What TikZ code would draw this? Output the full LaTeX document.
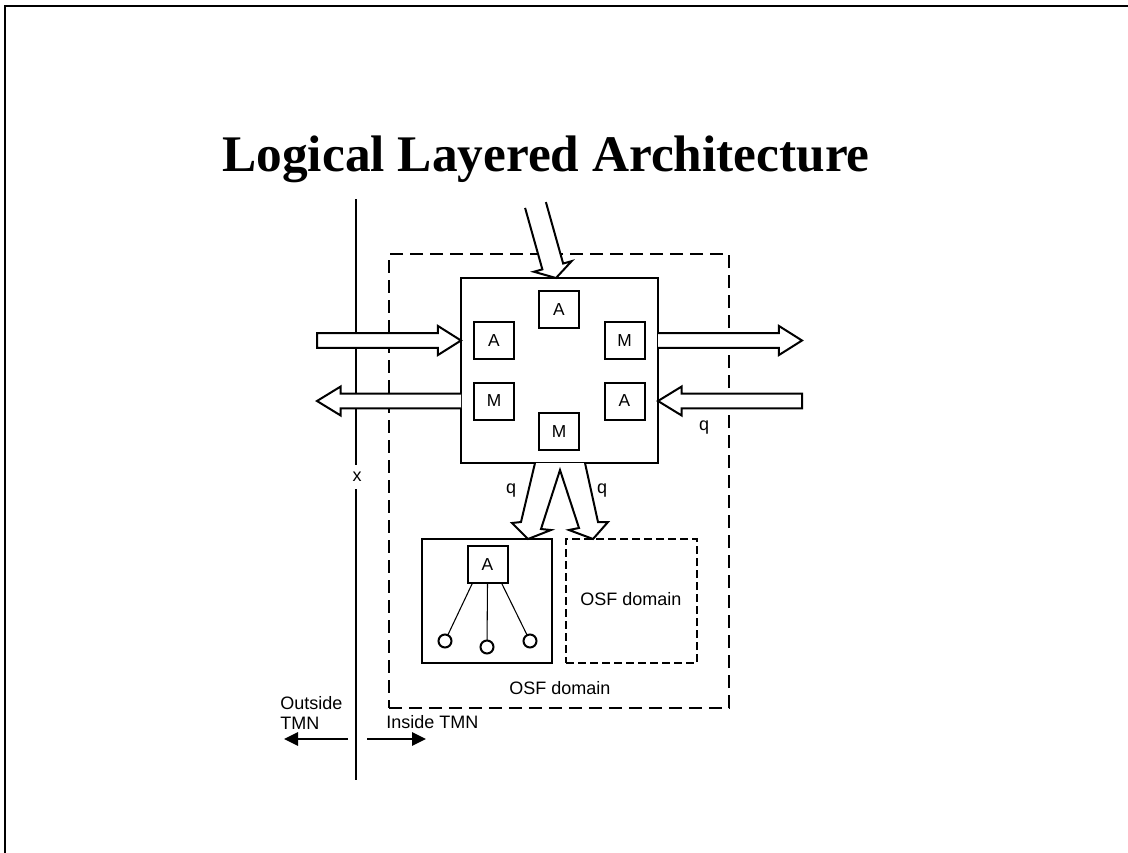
\documentclass[tikz,border=0pt]{standalone}
\usepackage{fontspec}
\setmainfont{Liberation Sans}
\newfontfamily\titlefont{Liberation Serif}
\usetikzlibrary{calc,arrows.meta}

% Hollow block arrow: #1 back point, #2 tip, #3 shaft half-width,
% #4 head half-width, #5 head length, #6 "-- cycle" for a closed back or empty
\newcommand\blockarrow[6]{%
  \coordinate (baheadbase) at ($(#2)!#5!(#1)$);
  \draw[arrowline]
    ($(#1)!#3!90:(#2)$) -- ($(baheadbase)!#3!90:(#2)$)
    -- ($(baheadbase)!#4!90:(#2)$) -- (#2)
    -- ($(baheadbase)!#4!-90:(#2)$) -- ($(baheadbase)!#3!-90:(#2)$)
    -- ($(#1)!#3!-90:(#2)$) #6;}

\begin{document}
\begin{tikzpicture}[x=0.75pt,y=-0.75pt,
  heavy/.style={line width=1.5pt},
  hair/.style={line width=0.8pt},
  arrowline/.style={heavy,fill=white,line join=miter},
  letterbox/.style={draw,heavy,fill=white,minimum width=30pt,minimum height=27.75pt,
    inner sep=0pt,outer sep=0pt,font=\fontsize{13}{15}\selectfont},
  txt/.style={inner sep=0pt,font=\fontsize{13.5}{15}\selectfont},
  bigdash/.style={heavy,dash pattern=on 10pt off 5pt},
  smalldash/.style={heavy,dash pattern=on 6pt off 3pt},
  leaf/.style={circle,draw,heavy,minimum size=9.75pt,inner sep=0pt,outer sep=0pt},
  sidearrow/.style={heavy,-{Triangle[length=10.5pt,width=10pt]}}]

\useasboundingbox (0,0) rectangle (1128,853);

% page frame (top and left edges)
\draw[line width=1.3pt] (5,853) -- (5,6) -- (1128,6);

% title
\node[anchor=base,inner sep=0pt,font=\titlefont\bfseries\fontsize{38.5}{44}\selectfont]
  (title) at (546,171) {Logical Layered Architecture};

% TMN boundary line
\coordinate (bndtop) at (356,199);
\coordinate (bndbot) at (356,780);
\draw[hair] (bndtop) -- (bndbot);
\node[fill=white,inner xsep=1pt,minimum height=18pt,txt] (xlabel) at (357,477) {x};

% outer OSF domain
\node[draw,bigdash,minimum width=255pt,minimum height=340.5pt,inner sep=0pt,outer sep=0pt]
  (outer) at (559,481) {};
\node[txt] (outerlabel) at (560,688) {OSF domain};

% central function block
\node[draw,heavy,fill=white,minimum width=147.75pt,minimum height=138.75pt,inner sep=0pt,outer sep=0pt]
  (cbox) at (559.5,370.5) {};
\node[letterbox] (aTop)   at (559,309.5) {A};
\node[letterbox] (aLeft)  at (494,340.5) {A};
\node[letterbox] (mRight) at (624.5,340.5) {M};
\node[letterbox] (mLeft)  at (494,401) {M};
\node[letterbox] (aRight) at (624.5,401) {A};
\node[letterbox] (mBot)   at (559,431.5) {M};

% lower blocks
\node[draw,heavy,minimum width=97.5pt,minimum height=93pt,inner sep=0pt,outer sep=0pt]
  (lbox) at (487,601) {};
\node[draw,smalldash,minimum width=98.25pt,minimum height=93pt,inner sep=0pt,outer sep=0pt]
  (dbox) at (631.5,601) {};
\node[txt] (dlabel) at (631,599) {OSF domain};

\node[letterbox] (aTree) at (487.5,564.5) {A};
\node[leaf] (c1) at (445,641) {};
\node[leaf] (c2) at (487,647) {};
\node[leaf] (c3) at (530,641) {};
\draw[hair] ($(aTree.south west)+(5,0)$) -- (c1);
\draw[hair] (aTree.south) -- (c2);
\draw[hair] ($(aTree.south east)+(-6,0)$) -- (c3);

% horizontal block arrows
\coordinate (inLback)   at (317,340.5);
\coordinate (outRtip)   at (802,340.5);
\coordinate (outLtip)   at (317,401);
\coordinate (inRback)   at (802,401);
\coordinate (inLtip)  at (cbox.west |- aLeft.center);
\coordinate (outRback) at (cbox.east |- mRight.center);
\coordinate (outLback) at (cbox.west |- mLeft.center);
\coordinate (inRtip)  at (cbox.east |- aRight.center);
\blockarrow{inLback}{inLtip}{5.6pt}{10.9pt}{17.3pt}{-- cycle}
\blockarrow{outRback}{outRtip}{5.6pt}{10.9pt}{17.3pt}{}
\blockarrow{outLback}{outLtip}{5.6pt}{10.9pt}{17.8pt}{}
\blockarrow{inRback}{inRtip}{5.6pt}{10.9pt}{17.8pt}{-- cycle}
\node[txt] (qright) at (704,428) {q};

% incoming arrow from above
\coordinate (topback) at (535.5,205);
\coordinate (toptip) at ($(cbox.north)+(-3.5,0)$);
\blockarrow{topback}{toptip}{8.1pt}{14.7pt}{9pt}{}

% forked arrow from the central block down to the two lower blocks
\coordinate (forkL) at ($(cbox.south)+(-24.5,0)$);
\coordinate (forkR) at ($(cbox.south)+(25.5,0)$);
\coordinate (forkapex) at ($(cbox.south)+(0.5,7)$);
\coordinate (tipL) at ($(lbox.north west)+(106,0)$);
\coordinate (tipR) at ($(dbox.north west)+(27,0)$);
\draw[arrowline] (forkL) -- (521,522) -- (512,523) -- (tipL) -- (551,530) -- (541,529)
  -- (forkapex) -- (579,528) -- (569,530) -- (tipR) -- (608,522) -- (598,522) -- (forkR);
\node[txt] (qleft) at (511,491) {q};
\node[txt] (qmid) at (602,491) {q};

% inside / outside markers
\node[txt,align=left,anchor=west,font=\fontsize{13.5}{15}\selectfont] (outside) at (280,713) {Outside\\TMN};
\node[txt,anchor=west] (inside) at (386,722) {Inside TMN};
\coordinate (outstart) at (348,739);
\coordinate (outend) at (284,739);
\coordinate (instart) at (367,739);
\coordinate (inend) at (426,739);
\draw[sidearrow] (outstart) -- (outend);
\draw[sidearrow] (instart) -- (inend);

\end{tikzpicture}
\end{document}
